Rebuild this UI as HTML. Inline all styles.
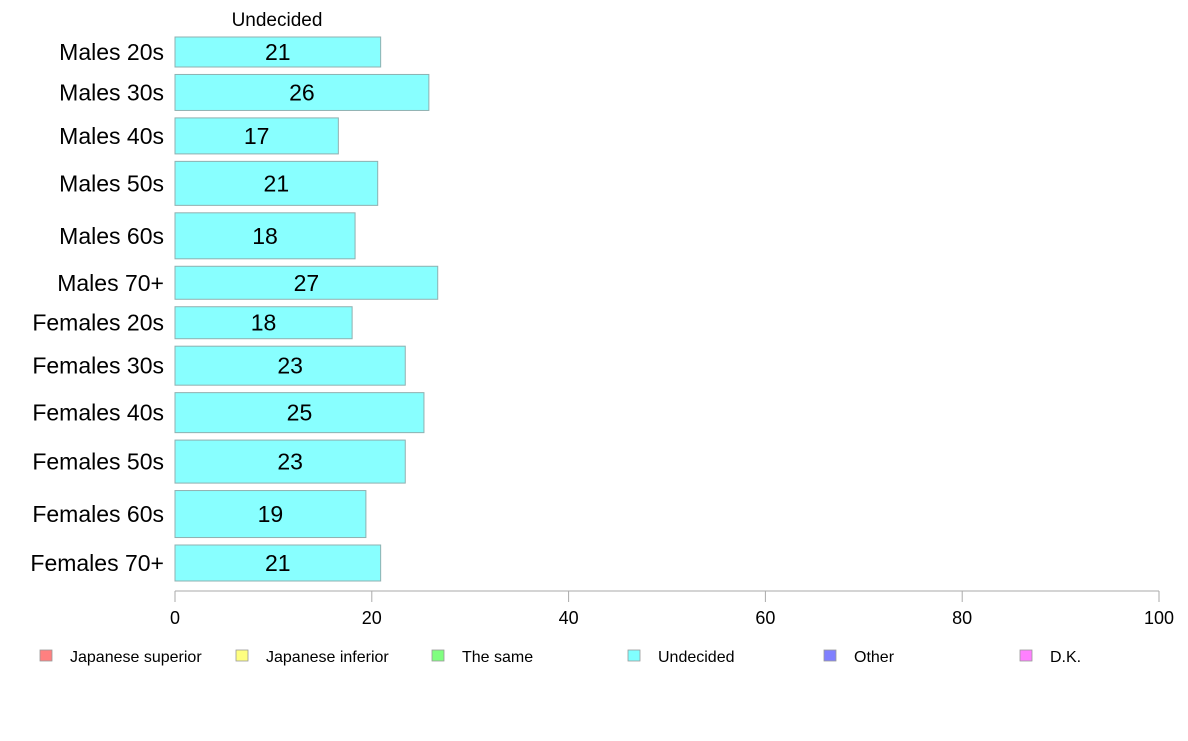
<!DOCTYPE html>
<html><head><meta charset="utf-8"><style>
body{margin:0;background:#fff;font-family:"Liberation Sans",Arial,sans-serif}
svg text{font-family:"Liberation Sans",Arial,sans-serif}
</style></head><body>
<svg id="chart" width="1188" height="736" viewBox="0 0 1188 736" xmlns="http://www.w3.org/2000/svg"></svg>
<script>
const categories=["Males 20s","Males 30s","Males 40s","Males 50s","Males 60s","Males 70+","Females 20s","Females 30s","Females 40s","Females 50s","Females 60s","Females 70+"];
const values=[20.9,25.8,16.6,20.6,18.3,26.7,18.0,23.4,25.3,23.4,19.4,20.9];
const weights=[30,36,36,44,46,33,32,39,40,43,47,36];
const ticks=[0,20,40,60,80,100];
const legendLabels=["Japanese superior","Japanese inferior","The same","Undecided","Other","D.K."];
const legendColors=["#ff8080","#ffff80","#80ff80","#80ffff","#8080ff","#ff80ff"];

const NS="http://www.w3.org/2000/svg";
const svgEl=document.getElementById('chart');
function mk(t,a,p){const e=document.createElementNS(NS,t);for(const k in a)e.setAttribute(k,a[k]);(p||svgEl).appendChild(e);return e;}
const xLeft=175,xRight=1159,yTop=37,yBottom=581;
const xs=v=>xLeft+(v/100)*(xRight-xLeft);
const totalW=weights.reduce((a,b)=>a+b,0);
const gapY=(yBottom-yTop-totalW)/(categories.length-1);

const title=mk('text',{x:277,y:26,'text-anchor':'middle','font-size':19,fill:'#000'});


title.textContent='Undecided';

let yy=yTop;
categories.forEach((c,i)=>{
  const h=weights[i];
  const r=mk('rect',{x:xLeft,y:yy,width:xs(values[i])-xLeft,height:h,fill:'#88ffff',stroke:'#8fb0b0','stroke-width':1});
  
  
  const cy=yy+h/2;
  const vl=mk('text',{x:(xLeft+xs(values[i]))/2,y:cy+8,'text-anchor':'middle','font-size':23,fill:'#000'});
  
  
  vl.textContent=Math.round(values[i]);
  const cl=mk('text',{x:164,y:cy+8,'text-anchor':'end','font-size':23,fill:'#000'});
  
  
  cl.textContent=c;
  yy+=h+gapY;
});

const ax=mk('line',{x1:xLeft,y1:591,x2:xRight,y2:591,stroke:'#aaa','stroke-width':1});


ticks.forEach(t=>{
  const tl=mk('line',{x1:xs(t),y1:591,x2:xs(t),y2:602,stroke:'#aaa','stroke-width':1});
  
  
  const tx=mk('text',{x:xs(t),y:624,'text-anchor':'middle','font-size':18,fill:'#000'});
  
  
  tx.textContent=t;
});

legendLabels.forEach((l,i)=>{
  const lx=40+i*196;
  const g=mk('g',{});
  
  
  mk('rect',{x:lx,y:650,width:12,height:11,fill:legendColors[i],stroke:'#999','stroke-width':0.8},g);
  const t=mk('text',{x:lx+30,y:662,'font-size':16,fill:'#000'},g);
  t.textContent=l;
});
</script>
</body></html>
